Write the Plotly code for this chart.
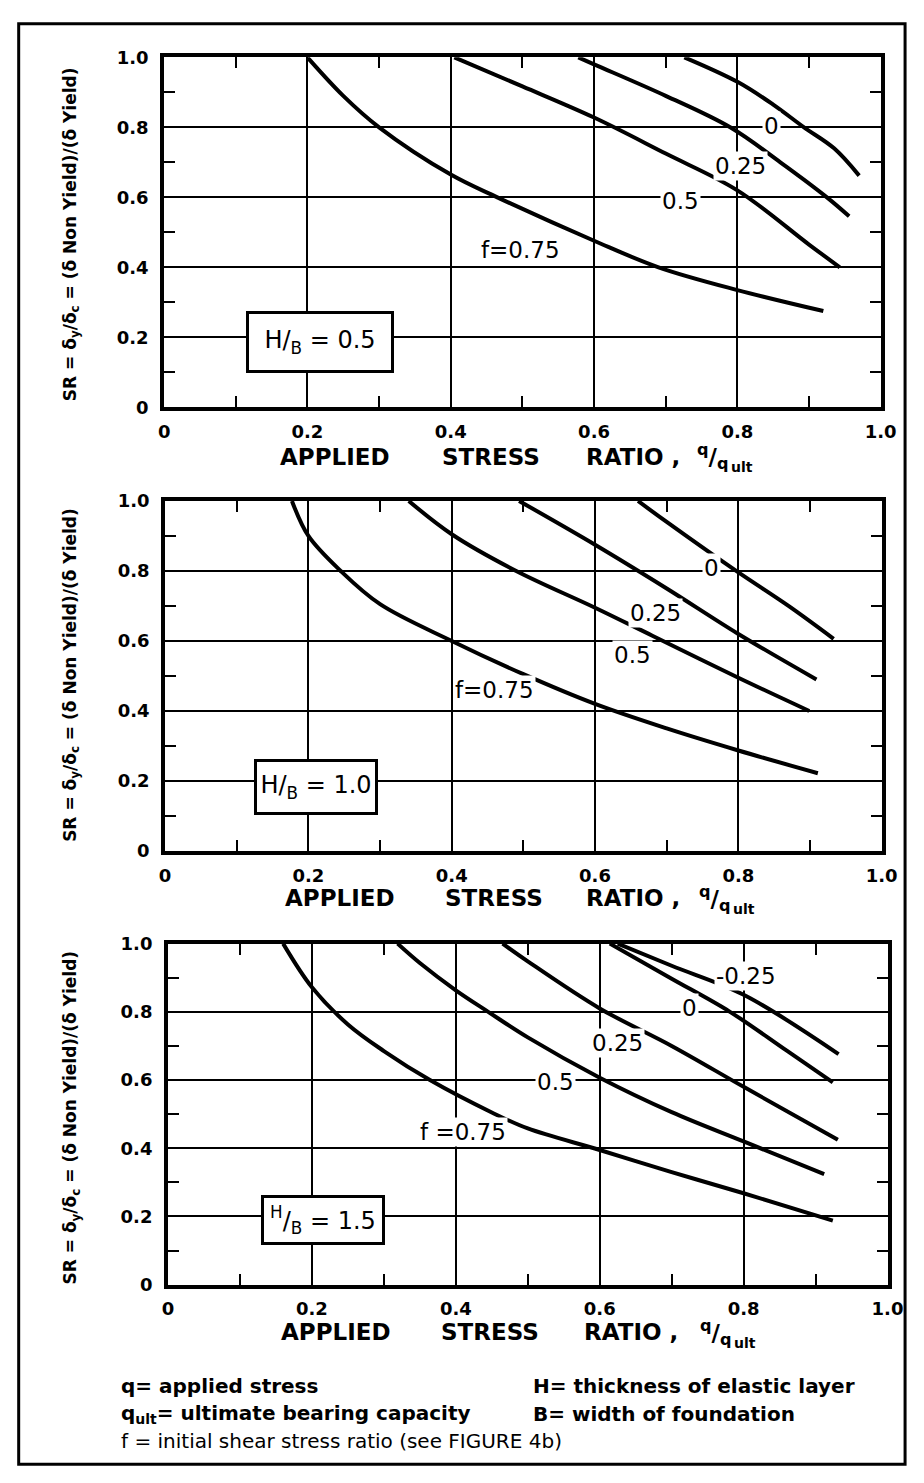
import plotly.graph_objects as go

W, H = 924, 1483

# ---------------- data ----------------
TICK_VALS = [0, 0.2, 0.4, 0.6, 0.8, 1.0]
X_TICK_TEXT = ["0", "0.2", "0.4", "0.6", "0.8", "1.0"]
Y_TICK_TEXT = ["0", "0.2", "0.4", "0.6", "0.8", "1.0"]

# Panel 1 : H/B = 0.5
P1_F0_X = [0.726, 0.8, 0.85, 0.893, 0.935, 0.97]
P1_F0_Y = [1.0, 0.93, 0.865, 0.8, 0.74, 0.662]
P1_F025_X = [0.578, 0.6, 0.7, 0.79, 0.86, 0.925, 0.956]
P1_F025_Y = [1.0, 0.98, 0.89, 0.8, 0.70, 0.6, 0.546]
P1_F05_X = [0.405, 0.5, 0.6, 0.7, 0.8, 0.9, 0.943]
P1_F05_Y = [1.0, 0.917, 0.828, 0.725, 0.62, 0.465, 0.40]
P1_F075_X = [0.2, 0.25, 0.3, 0.4, 0.465, 0.6, 0.69, 0.8, 0.92]
P1_F075_Y = [1.0, 0.89, 0.8, 0.665, 0.6, 0.476, 0.4, 0.335, 0.275]

# Panel 2 : H/B = 1.0
P2_F0_X = [0.66, 0.7, 0.797, 0.87, 0.933]
P2_F0_Y = [1.0, 0.94, 0.8, 0.70, 0.606]
P2_F025_X = [0.494, 0.6, 0.7, 0.8, 0.909]
P2_F025_Y = [1.0, 0.875, 0.75, 0.62, 0.49]
P2_F05_X = [0.34, 0.4, 0.49, 0.6, 0.68, 0.8, 0.899]
P2_F05_Y = [1.0, 0.905, 0.8, 0.695, 0.615, 0.495, 0.40]
P2_F075_X = [0.177, 0.2, 0.245, 0.3, 0.4, 0.5, 0.6, 0.7, 0.8, 0.911]
P2_F075_Y = [1.0, 0.9, 0.8, 0.705, 0.6, 0.505, 0.42, 0.35, 0.287, 0.222]

# Panel 3 : H/B = 1.5
P3_FM025_X = [0.625, 0.7, 0.8, 0.932]
P3_FM025_Y = [1.0, 0.935, 0.85, 0.676]
P3_F0_X = [0.614, 0.7, 0.781, 0.86, 0.924]
P3_F0_Y = [1.0, 0.897, 0.8, 0.686, 0.593]
P3_F025_X = [0.465, 0.5, 0.6, 0.7, 0.8, 0.931]
P3_F025_Y = [1.0, 0.948, 0.81, 0.70, 0.58, 0.425]
P3_F05_X = [0.319, 0.35, 0.4, 0.445, 0.5, 0.6, 0.7, 0.8, 0.912]
P3_F05_Y = [1.0, 0.943, 0.863, 0.8, 0.725, 0.607, 0.506, 0.42, 0.324]
P3_F075_X = [0.16, 0.2, 0.25, 0.3, 0.364, 0.45, 0.5, 0.6, 0.7, 0.8, 0.924]
P3_F075_Y = [1.0, 0.872, 0.763, 0.685, 0.6, 0.505, 0.458, 0.395, 0.33, 0.268, 0.188]

P1_LABELS = ["0", "0.25", "0.5", "f=0.75"]
P2_LABELS = ["0", "0.25", "0.5", "f=0.75"]
P3_LABELS = ["-0.25", "0", "0.25", "0.5", "f =0.75"]
BOX_LABELS = ["H/<sub>B</sub> = 0.5", "H/<sub>B</sub> = 1.0", "<sup>H</sup>/<sub>B</sub> = 1.5"]

Y_TITLE = "SR = δ<sub>y</sub>/δ<sub>c</sub> = (δ Non Yield)/(δ Yield)"
X_TITLE_WORDS = ["APPLIED", "STRESS", "RATIO ,", "<sup>q</sup>/<sub>q</sub>"]
X_TITLE_SUB = "ult"

FOOT_LEFT = ["q= applied stress", "q<sub>ult</sub>= ultimate bearing capacity"]
FOOT_RIGHT = ["H= thickness of elastic layer", "B= width of foundation"]
FOOT_BOTTOM = "f = initial shear stress ratio (see FIGURE 4b)"

# ---------------- layout helpers (pixel geometry) ----------------
FONT = "'DejaVu Sans', sans-serif"


def px_x(p):
    return p / W


def px_y(p):
    return 1 - p / H


panels = [
    dict(l=162, r=896, t=47, b=402,
         curves=[(P1_F0_X, P1_F0_Y), (P1_F025_X, P1_F025_Y), (P1_F05_X, P1_F05_Y), (P1_F075_X, P1_F075_Y)],
         labels=P1_LABELS,
         label_pos=[(0.847, 0.803), (0.805, 0.69), (0.72, 0.59), (0.498, 0.45)],
         box=(0.217, 0.186, 138, 52),
         title_y=452, title_x=[337, 497, 642, 724], ytitle_c=226),
    dict(l=163, r=897, t=497, b=852,
         curves=[(P2_F0_X, P2_F0_Y), (P2_F025_X, P2_F025_Y), (P2_F05_X, P2_F05_Y), (P2_F075_X, P2_F075_Y)],
         labels=P2_LABELS,
         label_pos=[(0.763, 0.808), (0.684, 0.68), (0.652, 0.56), (0.46, 0.46)],
         box=(0.21, 0.183, 114, 46),
         title_y=900, title_x=[342, 500, 642, 726], ytitle_c=673),
    dict(l=166, r=903, t=946, b=1292,
         curves=[(P3_FM025_X, P3_FM025_Y), (P3_F0_X, P3_F0_Y), (P3_F025_X, P3_F025_Y),
                 (P3_F05_X, P3_F05_Y), (P3_F075_X, P3_F075_Y)],
         labels=P3_LABELS,
         label_pos=[(0.803, 0.905), (0.725, 0.81), (0.625, 0.708), (0.539, 0.595), (0.41, 0.448)],
         box=(0.216, 0.19, 114, 40),
         title_y=1340, title_x=[338, 496, 640, 727], ytitle_c=1122),
]

fig = go.Figure()
annotations = []
layout_axes = {}

for i, p in enumerate(panels, start=1):
    xa = "x" if i == 1 else f"x{i}"
    ya = "y" if i == 1 else f"y{i}"
    for cx, cy in p["curves"]:
        fig.add_trace(go.Scatter(
            x=cx, y=cy, mode="lines", xaxis=xa, yaxis=ya,
            line=dict(color="black", width=4, shape="spline", smoothing=1.0),
            showlegend=False, hoverinfo="skip"))

    common = dict(
        range=[0, 1], showline=True, linecolor="black", linewidth=4, mirror="ticks",
        showgrid=True, gridcolor="black", gridwidth=2, zeroline=False,
        tickmode="array", tickvals=TICK_VALS,
        ticks="inside", ticklen=11, tickwidth=2, tickcolor="black",
        minor=dict(ticks="inside", ticklen=11, tickwidth=2, tickcolor="black",
                   tick0=0, dtick=0.1, showgrid=False),
        tickfont=dict(family=FONT, size=18, color="black", weight="bold"),
        fixedrange=True,
    )
    layout_axes["xaxis" if i == 1 else f"xaxis{i}"] = dict(
        common, domain=[px_x(p["l"]), px_x(p["r"])], anchor=ya,
        ticktext=X_TICK_TEXT, ticklabelstandoff=5)
    layout_axes["yaxis" if i == 1 else f"yaxis{i}"] = dict(
        common, domain=[px_y(p["b"]), px_y(p["t"])], anchor=xa,
        ticktext=Y_TICK_TEXT, ticklabelstandoff=8)

    # curve labels
    for txt, (lx, ly) in zip(p["labels"], p["label_pos"]):
        annotations.append(dict(
            x=lx, y=ly, xref=xa, yref=ya, xanchor="center", yanchor="middle",
            text=txt, showarrow=False, bgcolor="white", borderpad=1,
            font=dict(family=FONT, size=23, color="black")))

    # H/B box
    bx, by, bw, bh = p["box"]
    annotations.append(dict(
        x=bx, y=by, xref=xa, yref=ya, xanchor="center", yanchor="middle",
        text=BOX_LABELS[i - 1], showarrow=False,
        bgcolor="white", bordercolor="black", borderwidth=3, borderpad=2,
        width=bw, height=bh, align="center", valign="middle",
        font=dict(family=FONT, size=24, color="black")))

    # x-axis title words
    for word, wx in zip(X_TITLE_WORDS, p["title_x"]):
        annotations.append(dict(
            x=px_x(wx), y=px_y(p["title_y"]), xref="paper", yref="paper",
            xanchor="center", yanchor="middle",
            text=word, showarrow=False,
            font=dict(family=FONT, size=23, color="black", weight="bold")))
    annotations.append(dict(
        x=px_x(p["title_x"][3] + 17), y=px_y(p["title_y"] + 11), xref="paper", yref="paper",
        xanchor="left", yanchor="middle", text=X_TITLE_SUB, showarrow=False,
        font=dict(family=FONT, size=14, color="black", weight="bold")))

    # y-axis title
    annotations.append(dict(
        x=px_x(67), y=px_y(p["ytitle_c"]), xref="paper", yref="paper",
        xanchor="center", yanchor="middle",
        text=Y_TITLE, textangle=-90, showarrow=False,
        font=dict(family=FONT, size=17, color="black", weight="bold")))

# footer
for k, txt in enumerate(FOOT_LEFT):
    annotations.append(dict(
        x=px_x(116), y=px_y(1395 + 28 * k), xref="paper", yref="paper",
        xanchor="left", yanchor="middle", text=txt, showarrow=False,
        font=dict(family=FONT, size=20, color="black", weight="bold")))
for k, txt in enumerate(FOOT_RIGHT):
    annotations.append(dict(
        x=px_x(538), y=px_y(1395 + 28 * k), xref="paper", yref="paper",
        xanchor="left", yanchor="middle", text=txt, showarrow=False,
        font=dict(family=FONT, size=20, color="black", weight="bold")))
annotations.append(dict(
    x=px_x(116), y=px_y(1451), xref="paper", yref="paper",
    xanchor="left", yanchor="middle", text=FOOT_BOTTOM, showarrow=False,
    font=dict(family=FONT, size=20, color="black")))

fig.update_layout(
    width=W, height=H, autosize=False,
    margin=dict(l=0, r=0, t=0, b=0),
    paper_bgcolor="white", plot_bgcolor="white",
    annotations=annotations,
    shapes=[dict(type="rect", xref="paper", yref="paper",
                 x0=px_x(13), x1=px_x(921), y0=px_y(1474), y1=px_y(13),
                 line=dict(color="black", width=3))],
    **layout_axes,
)

fig.write_html(
    "out.html",
    config={"displayModeBar": False},
    post_script="document.body.style.margin='0px';document.body.style.overflow='hidden';",
)
